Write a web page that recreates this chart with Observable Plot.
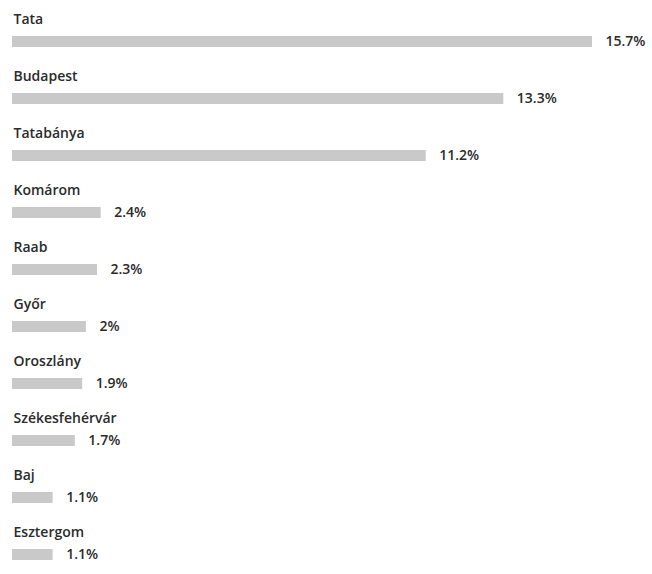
<!DOCTYPE html>
<html>
<head>
<meta charset="utf-8">
<script src="https://cdn.jsdelivr.net/npm/d3@7"></script>
<script src="https://cdn.jsdelivr.net/npm/@observablehq/plot@0.6"></script>
<style>
  body { margin: 0; background: #fff; }
  #chart svg { display: block; }
</style>
</head>
<body>
<div id="chart"></div>
<script>
const cities = ["Tata", "Budapest", "Tatabánya", "Komárom", "Raab", "Győr", "Oroszlány", "Székesfehérvár", "Baj", "Esztergom"];
const shares = [15.7, 13.3, 11.2, 2.4, 2.3, 2, 1.9, 1.7, 1.1, 1.1];
const shareLabels = ["15.7%", "13.3%", "11.2%", "2.4%", "2.3%", "2%", "1.9%", "1.7%", "1.1%", "1.1%"];

const data = cities.map((c, i) => ({city: c, value: shares[i], label: shareLabels[i]}));

const chart = Plot.plot({
  width: 652,
  height: 574,
  marginTop: 0,
  marginBottom: 0,
  marginLeft: 12,
  marginRight: 60,
  style: {fontFamily: "'Open Sans', sans-serif", background: "#fff"},
  x: {domain: [0, d3.max(shares)], axis: null},
  y: {domain: cities, axis: null, padding: 0},
  marks: [
    Plot.barX(data, {x: "value", y: "city", fill: "#c9c9c9", insetTop: 34, insetBottom: 12}),
    Plot.text(data, {x: 0, y: "city", text: "city", textAnchor: "start", dx: 1, dy: -11, fontSize: 14, fill: "#2b2b2b", fontWeight: 600}),
    Plot.text(data, {x: "value", y: "city", text: "label", textAnchor: "start", dx: 13, dy: 11, fontSize: 14, fill: "#2b2b2b", fontWeight: 600})
  ]
});
document.getElementById("chart").appendChild(chart);
</script>
</body>
</html>
